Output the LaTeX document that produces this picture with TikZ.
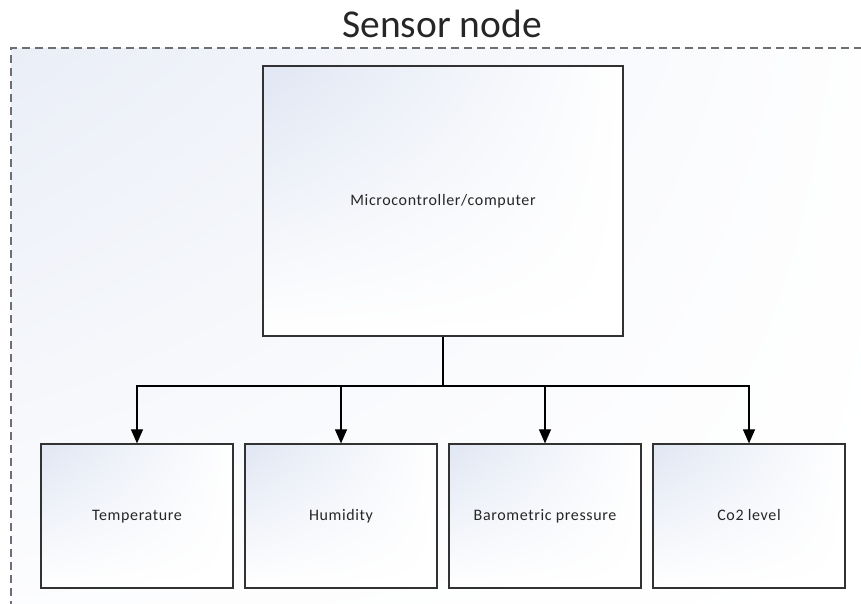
\documentclass[tikz,border=0pt]{standalone}
\usepackage{fontspec}
\setmainfont{Carlito}
\usetikzlibrary{arrows.meta,shadings}
\definecolor{bgblue}{RGB}{234,238,247}
\definecolor{boxblue}{RGB}{224,230,243}
\definecolor{frame}{RGB}{110,110,115}
\definecolor{edge}{RGB}{50,50,50}
\tikzset{
  blockbox/.style={draw=edge, line width=1.2pt, inner sep=0pt,
    text height=11pt, text depth=3pt,
    upper left=boxblue, upper right=white, lower left=white, lower right=white,
    font=\fontsize{16}{19}\selectfont\addfontfeature{LetterSpace=4}, text=black!85},
  conn/.style={draw=black, line width=1.1pt},
  arr/.style={conn, -{Triangle[length=14pt,width=12pt]}},
}
\begin{document}
\begin{tikzpicture}[x=1pt,y=-1pt]
\useasboundingbox (0,0) rectangle (861,603);
\fill[white] (0,0) rectangle (861,603);
\shade[upper left=bgblue, upper right=white!96!bgblue, lower left=white!88!bgblue, lower right=white] (11,48) rectangle (875,615);
\draw[frame, line width=1.4pt, dash pattern=on 8pt off 5pt] (875,48) -- (11,48) -- (11,615);
\node[font=\fontsize{39.5}{44}\selectfont, text=black!85, anchor=base] (title) at (442,37) {Sensor node};
\node[blockbox, minimum width=360pt, minimum height=270pt] (mc) at (443,201) {Microcontroller/computer};
\node[blockbox, minimum width=192pt, minimum height=144pt] (t) at (137,516) {Temperature};
\node[blockbox, minimum width=192pt, minimum height=144pt] (h) at (341,516) {Humidity};
\node[blockbox, minimum width=192pt, minimum height=144pt] (b) at (545,516) {Barometric pressure};
\node[blockbox, minimum width=192pt, minimum height=144pt] (c) at (749,516) {Co2 level};
\coordinate (hub) at (443,386);
\draw[conn] (mc.south) -- (hub);
\draw[arr] (hub) -| (t.north);
\draw[arr] (hub) -| (h.north);
\draw[arr] (hub) -| (b.north);
\draw[arr] (hub) -| (c.north);
\end{tikzpicture}
\end{document}
